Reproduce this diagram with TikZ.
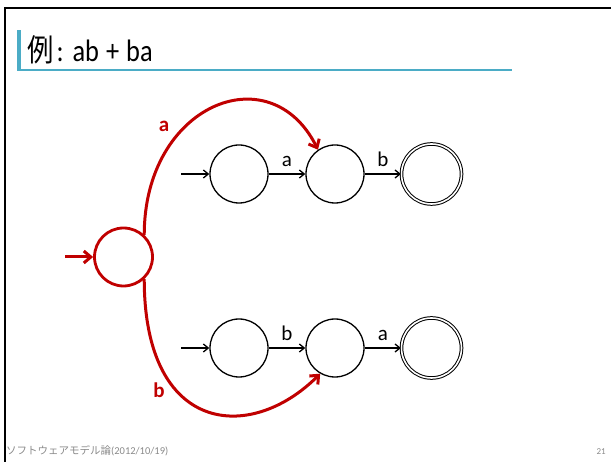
\documentclass[tikz,border=0pt]{standalone}
\usepackage{fontspec}
\setmainfont{Carlito}
\newfontfamily\cjk{Noto Sans CJK JP}
\newfontfamily\titlefont[FakeStretch=0.85]{Carlito}
\newfontfamily\titlecjk[FakeStretch=0.85]{Noto Sans CJK JP}
\usetikzlibrary{arrows.meta}
\definecolor{dred}{RGB}{192,0,0}
\definecolor{accent}{RGB}{75,172,198}
\definecolor{foot}{RGB}{137,137,137}
\begin{document}
\begin{tikzpicture}[x=1pt,y=-1pt,
  st/.style={circle,draw,line width=1.3pt,minimum size=58pt,inner sep=0pt},
  acc/.style={st,double,double distance=1.6pt,line width=1pt,minimum size=60pt},
  redst/.style={circle,draw=dred,line width=2.8pt,minimum size=58pt,inner sep=0pt},
  tr/.style={line width=1.3pt,-{Straight Barb[length=5pt,width=8pt]}},
  rtr/.style={draw=dred,line width=3pt,-{Straight Barb[length=7pt,width=12pt]}},
  lbl/.style={font=\fontsize{21}{24}\selectfont,inner sep=0pt},
  rlbl/.style={font=\fontsize{21}{24}\selectfont\bfseries,text=dred,inner sep=0pt}]
\useasboundingbox (0,0) rectangle (611,462);
% frame
\draw[line width=2pt] (5,462) -- (5,8) -- (611,8);
% title
\fill[accent] (17,30) rectangle (21,71);
\fill[accent] (17,68.8) rectangle (512,71);
\node[anchor=base west,inner sep=0pt,font=\fontsize{31}{36}\titlefont] (title) at (27,62) {{\titlecjk 例}\hspace{3pt}:\hspace{9pt}ab\hspace{7pt}+\hspace{7pt}ba};
% footer
\node[anchor=base west,inner sep=0pt,font=\fontsize{10.5}{12}\selectfont,text=foot] (ft) at (6,455) {{\cjk ソフトウェアモデル論}(2012/10/19)};
\node[anchor=base east,inner sep=0pt,font=\fontsize{9}{10}\selectfont,text=foot] (pg) at (606,455) {21};
% nodes
\node[redst] (s) at (123.5,257) {};
\node[st] (p1) at (239,174) {};
\node[st] (p2) at (335,174) {};
\node[acc] (p3) at (431.5,174) {};
\node[st] (q1) at (239,348) {};
\node[st] (q2) at (335,348) {};
\node[acc] (q3) at (431.5,348) {};
\coordinate (ps) at (181,174);
\coordinate (qs) at (181,348);
\coordinate (ss) at (65,257);
% edges
\draw[tr] (ps) -- (p1);
\draw[tr] (p1) -- node[lbl,above=7pt] (la1) {a} (p2);
\draw[tr] (p2) -- node[lbl,above=7pt] (lb1) {b} (p3);
\draw[tr] (qs) -- (q1);
\draw[tr] (q1) -- node[lbl,above=7pt] (lb2) {b} (q2);
\draw[tr] (q2) -- node[lbl,above=7pt] (la2) {a} (q3);
\draw[rtr] (ss) -- (s);
\draw[rtr] (s.47) .. controls +(0,-130) and +(-48,-96) .. (p2.125);
\draw[rtr] (s.-47) .. controls +(0,155) and +(-70,70) .. (q2.-120);
\node[rlbl] (ra) at (164,126) {a};
\node[rlbl] (rb) at (159,390) {b};
\end{tikzpicture}
\end{document}
